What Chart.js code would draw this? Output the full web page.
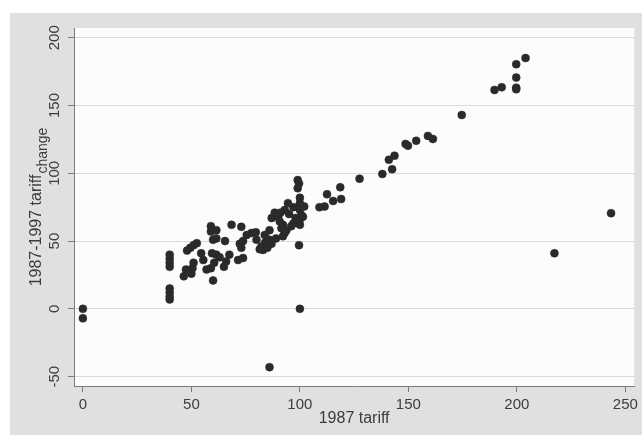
<!DOCTYPE html>
<html>
<head>
<meta charset="utf-8">
<title>1987 tariff vs 1987-1997 tariff change</title>
<script src="https://cdn.jsdelivr.net/npm/chart.js@4.4.1/dist/chart.umd.min.js"></script>
<style>
  html, body { margin: 0; padding: 0; background: #ffffff; }
  #wrap { position: absolute; left: 10px; top: 13px; width: 632px; height: 422px; background: #e0e0e0; }
  canvas { display: block; }
</style>
</head>
<body>
<div id="wrap"><canvas id="tariffChart" width="632" height="422"></canvas></div>
<script>
// 1987 tariff (x) and 1987-1997 tariff change (y)
const tariff1987 = [
  0, 0,
  40, 40, 40, 40, 40, 40, 40, 40,
  46.5, 47.5, 48, 49.5, 51, 52.5, 50, 50.5, 51, 54.5, 55.5, 57, 59, 59, 60, 61.5, 61.5, 59.5, 60.5, 59, 60, 61.5, 63, 65.5, 65, 66, 67.5, 68.5,
  73, 72.3, 73, 73.8, 71.5, 73.8, 75.5, 77.7, 79.7, 80, 82.3, 83, 84.6, 83.8, 86, 87, 88.4, 86, 89, 86.9, 90.7, 92.2, 93, 94.5, 92.2, 93.8, 91.5, 93, 96, 81.5, 85, 84, 97, 98, 95, 97, 90, 91,
  99, 99.6, 99, 100, 100, 100, 100.7, 100, 100, 102, 101.4, 99.6, 100, 86,
  109, 111.4, 112.5, 115.3, 118.6, 119, 127.5, 138, 142.5, 141, 143.6, 148.7, 149.8, 153.6, 159, 161.3, 174.6,
  189.7, 193, 199.7, 199.7, 199.7, 199.7, 204, 217.3, 243.4
];
const tariffChange = [
  0, -7,
  40, 37, 34, 31, 15, 12, 9, 7,
  24, 29, 43, 45, 47, 48.5, 26, 30, 34, 41, 36, 29, 61, 57, 51, 58, 52, 41, 34, 30, 21, 40, 38, 50, 31, 35, 40, 62,
  60.5, 48, 45, 50, 36, 37.5, 54.5, 56, 56.5, 51, 46, 43.5, 47, 54.5, 58, 67, 71, 51, 52, 48, 64.5, 62, 73, 78, 53.5, 58, 59.5, 56, 61, 44, 45, 49, 63, 67, 70, 75, 68, 71,
  95, 92.5, 89, 82, 78, 73, 69, 66, 62, 75.5, 68, 47, 0, -43,
  75, 75.5, 84.6, 79.6, 89.7, 81, 96, 99.5, 103, 110, 113, 121.7, 120.4, 124, 127.6, 125.3, 143,
  161.5, 163.5, 163.2, 162, 170.6, 180.5, 185, 41, 70.6
];
const xTicks = [0, 50, 100, 150, 200, 250];
const yTicks = [-50, 0, 50, 100, 150, 200];

const xTitle = '1987 tariff';
const yTitleMain = '1987-1997 tariff';
const yTitleSub = 'change';

const textColor = '#3c3c3c';
const axisColor = '#7c7c7c';

// white plot region
const plotBackground = {
  id: 'plotBackground',
  beforeDraw(chart) {
    const { ctx, chartArea: a } = chart;
    ctx.save();
    ctx.fillStyle = '#fcfcfc';
    ctx.fillRect(a.left, a.top, a.right - a.left, a.bottom - a.top);
    ctx.restore();
  }
};

// y title with subscript, rotated
const yTitlePlugin = {
  id: 'yTitlePlugin',
  afterDraw(chart) {
    const { ctx, chartArea: a } = chart;
    const cy = (a.top + a.bottom) / 2;
    ctx.save();
    ctx.fillStyle = textColor;
    ctx.textBaseline = 'alphabetic';
    ctx.textAlign = 'left';
    ctx.font = '16px "Liberation Sans", Arial, sans-serif';
    const wMain = ctx.measureText(yTitleMain).width;
    ctx.font = '14px "Liberation Sans", Arial, sans-serif';
    const wSub = ctx.measureText(yTitleSub).width;
    const total = wMain + 1 + wSub;
    ctx.translate(31, cy);
    ctx.rotate(-Math.PI / 2);
    ctx.font = '16px "Liberation Sans", Arial, sans-serif';
    ctx.fillText(yTitleMain, -total / 2, 0);
    ctx.font = '14px "Liberation Sans", Arial, sans-serif';
    ctx.fillText(yTitleSub, -total / 2 + wMain + 1, 6);
    ctx.restore();
  }
};

const ctx = document.getElementById('tariffChart').getContext('2d');
new Chart(ctx, {
  type: 'scatter',
  data: {
    datasets: [{
      data: tariff1987.map((x, i) => ({ x: x, y: tariffChange[i] })),
      backgroundColor: '#2a2a2a',
      borderColor: '#2a2a2a',
      borderWidth: 0.5,
      pointRadius: 4,
      pointHoverRadius: 4
    }]
  },
  options: {
    responsive: false,
    animation: false,
    layout: {
      padding: { top: 15, right: 7, left: 0, bottom: 0 }
    },
    plugins: {
      legend: { display: false },
      tooltip: { enabled: false }
    },
    scales: {
      x: {
        type: 'linear',
        min: -4.1,
        max: 254.1,
        afterBuildTicks: function(scale) {
          scale.ticks = xTicks.map(v => ({ value: v }));
        },
        afterFit: function(scale) {
          scale.height = 49;
        },
        border: { display: true, color: axisColor, width: 1 },
        grid: {
          drawOnChartArea: false,
          drawTicks: true,
          tickLength: 6,
          tickColor: axisColor
        },
        ticks: {
          color: textColor,
          padding: 4,
          autoSkip: false,
          maxRotation: 0,
          font: { family: '"Liberation Sans", Arial, sans-serif', size: 15 }
        },
        title: {
          display: true,
          text: xTitle,
          color: textColor,
          padding: { top: 0, bottom: 7 },
          font: { family: '"Liberation Sans", Arial, sans-serif', size: 16 }
        }
      },
      y: {
        type: 'linear',
        min: -56.9,
        max: 207.2,
        afterBuildTicks: function(scale) {
          scale.ticks = yTicks.map(v => ({ value: v }));
        },
        afterFit: function(scale) {
          scale.width = 64;
        },
        border: { display: true, color: axisColor, width: 1 },
        grid: {
          color: '#d9d9d9',
          lineWidth: 1,
          drawTicks: true,
          tickLength: 6,
          tickColor: axisColor
        },
        ticks: {
          color: textColor,
          padding: 1,
          autoSkip: false,
          minRotation: 90,
          maxRotation: 90,
          crossAlign: 'center',
          font: { family: '"Liberation Sans", Arial, sans-serif', size: 15 }
        }
      }
    }
  },
  plugins: [plotBackground, yTitlePlugin]
});
</script>
</body>
</html>
